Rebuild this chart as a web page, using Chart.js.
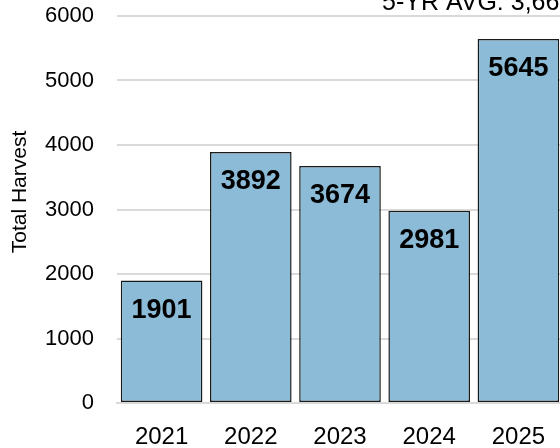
<!DOCTYPE html>
<html>
<head>
<meta charset="utf-8">
<script src="https://cdn.jsdelivr.net/npm/chart.js@4"></script>
<style>
  html, body { margin: 0; padding: 0; background: #fff; overflow: hidden; }
  #wrap { width: 600px; height: 448px; }
</style>
</head>
<body>
<div id="wrap"><canvas id="harvest-canvas" width="600" height="448"></canvas></div>
<script>
// Data
const years = ["2021", "2022", "2023", "2024", "2025"];
const harvest = [1901, 3892, 3674, 2981, 5645];
const yTicks = [0, 1000, 2000, 3000, 4000, 5000, 6000];
const avgText = "5-YR AVG: 3,660";

const FONT = "'Liberation Sans', Arial, sans-serif";

// draws the value inside each bar, near its top
const barLabels = {
    id: 'barLabels',
    afterDatasetsDraw(chart) {
        const ctx = chart.ctx;
        const meta = chart.getDatasetMeta(0);
        ctx.save();
        ctx.font = 'bold 27px ' + FONT;
        ctx.fillStyle = '#000';
        ctx.textAlign = 'center';
        ctx.textBaseline = 'middle';
        meta.data.forEach((bar, i) => {
            ctx.fillText(harvest[i], bar.x, bar.y + 30);
        });
        ctx.restore();
    }
};

// y title and the average note (clipped at the right edge)
const extraText = {
    id: 'extraText',
    afterDraw(chart) {
        const ctx = chart.ctx;
        ctx.save();
        ctx.fillStyle = '#000';
        ctx.font = '21px ' + FONT;
        ctx.translate(26, 192);
        ctx.rotate(-Math.PI / 2);
        ctx.textAlign = 'center';
        ctx.textBaseline = 'alphabetic';
        ctx.fillText('Total Harvest', 0, 0);
        ctx.restore();

        ctx.save();
        ctx.fillStyle = '#000';
        ctx.font = '25px ' + FONT;
        ctx.textAlign = 'left';
        ctx.textBaseline = 'alphabetic';
        ctx.fillText(avgText, 382, 10);
        ctx.restore();
    }
};

const harvestCanvas = document.getElementById('harvest-canvas');

let harvestChart = new Chart(harvestCanvas, {
    type: 'bar',
    data: {
        labels: years,
        datasets: [{
            data: harvest,
            backgroundColor: '#8bbbd6',
            borderColor: '#1a1a1a',
            borderWidth: 1.5,
            borderSkipped: false,
            categoryPercentage: 1,
            barPercentage: 0.915
        }]
    },
    options: {
        responsive: false,
        animation: false,
        layout: {
            padding: { top: 16, right: 37, left: 0, bottom: 0 }
        },
        plugins: {
            legend: { display: false },
            tooltip: { enabled: false }
        },
        scales: {
            x: {
                grid: { display: false },
                border: { display: true, color: '#d9d9d9', width: 2 },
                ticks: {
                    color: '#000',
                    font: { family: FONT, size: 24 },
                    padding: 12,
                    maxRotation: 0
                },
                afterFit(scale) { scale.height = 45; }
            },
            y: {
                min: 0,
                max: yTicks[yTicks.length - 1],
                afterBuildTicks(scale) {
                    scale.ticks = yTicks.map(v => ({ value: v }));
                },
                grid: { color: '#d9d9d9', lineWidth: 2, drawTicks: false },
                border: { display: false },
                ticks: {
                    color: '#000',
                    font: { family: FONT, size: 22 },
                    padding: 23,
                    callback: (v) => String(v)
                },
                afterFit(scale) {
                    scale.width = 117;
                    scale.paddingTop = 0;
                    scale.paddingBottom = 0;
                }
            }
        }
    },
    plugins: [barLabels, extraText]
});
</script>
</body>
</html>
